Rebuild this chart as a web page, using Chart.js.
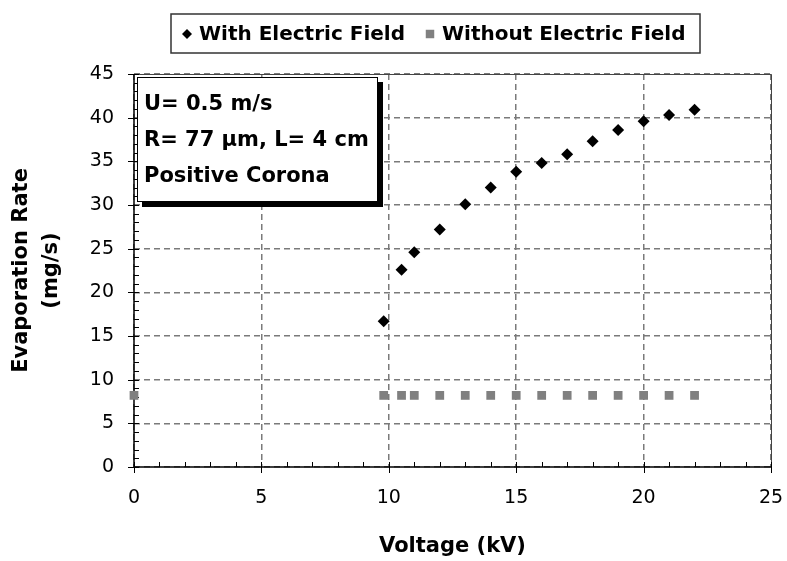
<!DOCTYPE html>
<html>
<head>
<meta charset="utf-8">
<script src="https://cdn.jsdelivr.net/npm/chart.js@4.4.1/dist/chart.umd.min.js"></script>
<style>
  html, body { margin: 0; padding: 0; background: #fff; }
  #chart { display: block; }
</style>
</head>
<body>
<canvas id="chart" width="787" height="561"></canvas>
<script>
// data
const with_x = [9.8, 10.5, 11, 12, 13, 14, 15, 16, 17, 18, 19, 20, 21, 22];
const with_y = [16.7, 22.6, 24.6, 27.2, 30.1, 32.0, 33.8, 34.8, 35.8, 37.3, 38.6, 39.6, 40.3, 40.9];
const without_x = [0, 9.8, 10.5, 11, 12, 13, 14, 15, 16, 17, 18, 19, 20, 21, 22];
const without_y = [8.2, 8.2, 8.2, 8.2, 8.2, 8.2, 8.2, 8.2, 8.2, 8.2, 8.2, 8.2, 8.2, 8.2, 8.2];
const series_names = ['With Electric Field', 'Without Electric Field'];
const x_ticks = [0, 5, 10, 15, 20, 25];
const y_ticks = [0, 5, 10, 15, 20, 25, 30, 35, 40, 45];
const note_lines = ['U= 0.5 m/s', 'R= 77 \u00b5m, L= 4 cm', 'Positive Corona'];

const FONT = 'DejaVu Sans';

function pts(xs, ys) {
    return xs.map((x, i) => ({x: x, y: ys[i]}));
}

// axes, minor ticks, frame, legend box and the note box
const decor = {
    id: 'decor',
    beforeDatasetsDraw(chart) {
        const ctx = chart.ctx;
        const a = chart.chartArea;
        const sx = chart.scales.x, sy = chart.scales.y;
        ctx.save();
        // frame top/right
        ctx.strokeStyle = '#444';
        ctx.lineWidth = 1;
        ctx.beginPath();
        ctx.moveTo(a.left, a.top + 0.5);
        ctx.lineTo(a.right + 0.5, a.top + 0.5);
        ctx.lineTo(a.right + 0.5, a.bottom);
        ctx.stroke();
        // axes
        ctx.strokeStyle = '#000';
        ctx.lineWidth = 1.5;
        ctx.beginPath();
        ctx.moveTo(a.left, a.top);
        ctx.lineTo(a.left, a.bottom);
        ctx.lineTo(a.right, a.bottom);
        ctx.stroke();
        ctx.lineWidth = 1;
        ctx.beginPath();
        for (let v = 0; v <= 25; v++) {
            const px = Math.round(sx.getPixelForValue(v)) + 0.5;
            if (v % 5 === 0) {
                ctx.moveTo(px, a.bottom - 5);
                ctx.lineTo(px, a.bottom + 6);
            } else {
                ctx.moveTo(px, a.bottom);
                ctx.lineTo(px, a.bottom - 5);
            }
        }
        for (let v = 0; v <= 45; v++) {
            const py = Math.round(sy.getPixelForValue(v)) + 0.5;
            if (v % 5 === 0) {
                ctx.moveTo(a.left - 6, py);
                ctx.lineTo(a.left + 5, py);
            } else {
                ctx.moveTo(a.left, py);
                ctx.lineTo(a.left + 5, py);
            }
        }
        ctx.stroke();
        ctx.restore();
    },
    afterDatasetsDraw(chart) {
        const ctx = chart.ctx;
        ctx.save();
        // note box with drop shadow
        ctx.fillStyle = '#000';
        ctx.fillRect(142, 82, 241, 125);
        ctx.fillStyle = '#fff';
        ctx.fillRect(137, 77, 241, 125);
        ctx.strokeStyle = '#000';
        ctx.lineWidth = 1;
        ctx.strokeRect(137.5, 77.5, 240, 124);
        ctx.fillStyle = '#000';
        ctx.font = 'bold 21px "' + FONT + '"';
        ctx.textBaseline = 'middle';
        ctx.textAlign = 'left';
        note_lines.forEach((t, i) => ctx.fillText(t, 144, 105 + i * 36));
        ctx.restore();
    },
    afterDraw(chart) {
        const ctx = chart.ctx;
        const ds = chart.data.datasets;
        ctx.save();
        ctx.strokeStyle = '#333';
        ctx.lineWidth = 1.5;
        ctx.strokeRect(171, 14, 529, 39);
        ctx.font = 'bold 20px "' + FONT + '"';
        ctx.textBaseline = 'middle';
        ctx.textAlign = 'left';
        const cy = 34;
        const marks = [187, 430];
        ds.forEach((d, i) => {
            ctx.fillStyle = d.backgroundColor;
            Chart.helpers.drawPoint(ctx, {
                pointStyle: d.pointStyle,
                radius: i === 0 ? 5 : 6,
                rotation: 0,
                borderWidth: 0
            }, marks[i], cy);
            ctx.fillStyle = '#000';
            ctx.fillText(d.label, marks[i] + 12, cy + 1);
        });
        ctx.restore();
    }
};

new Chart(document.getElementById('chart'), {
    type: 'scatter',
    data: {
        datasets: [{
            label: series_names[0],
            data: pts(with_x, with_y),
            pointStyle: 'rectRot',
            radius: 6,
            backgroundColor: '#000',
            borderColor: '#000',
            borderWidth: 0,
            clip: false
        }, {
            label: series_names[1],
            data: pts(without_x, without_y),
            pointStyle: 'rect',
            radius: 6.2,
            backgroundColor: '#808080',
            borderColor: '#808080',
            borderWidth: 0,
            clip: false
        }]
    },
    options: {
        responsive: false,
        animation: false,
        layout: {padding: {top: 74, right: 16, left: 0, bottom: 0}},
        plugins: {
            legend: {display: false},
            tooltip: {enabled: false}
        },
        scales: {
            x: {
                type: 'linear',
                min: 0,
                max: 25,
                afterBuildTicks: s => { s.ticks = x_ticks.map(v => ({value: v})); },
                afterFit: s => { s.height = 94; s.paddingLeft = 0; s.paddingRight = 0; },
                ticks: {
                    font: {family: FONT, size: 19},
                    color: '#000',
                    padding: 20,
                    maxRotation: 0
                },
                grid: {color: '#7a7a7a', lineWidth: 1.5, drawTicks: false},
                border: {display: false, dash: [6, 4]},
                title: {
                    display: true,
                    text: 'Voltage (kV)',
                    font: {family: FONT, size: 21, weight: 'bold'},
                    color: '#000',
                    padding: {top: 0, bottom: 2}
                }
            },
            y: {
                type: 'linear',
                min: 0,
                max: 45,
                afterBuildTicks: s => { s.ticks = y_ticks.map(v => ({value: v})); },
                afterFit: s => { s.width = 134; s.paddingTop = 0; s.paddingBottom = 0; },
                ticks: {
                    font: {family: FONT, size: 19},
                    color: '#000',
                    padding: 20
                },
                grid: {color: '#7a7a7a', lineWidth: 1.5, drawTicks: false},
                border: {display: false, dash: [6, 4]},
                title: {
                    display: true,
                    text: ['Evaporation Rate', '(mg/s)'],
                    font: {family: FONT, size: 21, weight: 'bold', lineHeight: 1.43},
                    color: '#000',
                    padding: {top: 7, bottom: 0}
                }
            }
        }
    },
    plugins: [decor]
});
</script>
</body>
</html>
